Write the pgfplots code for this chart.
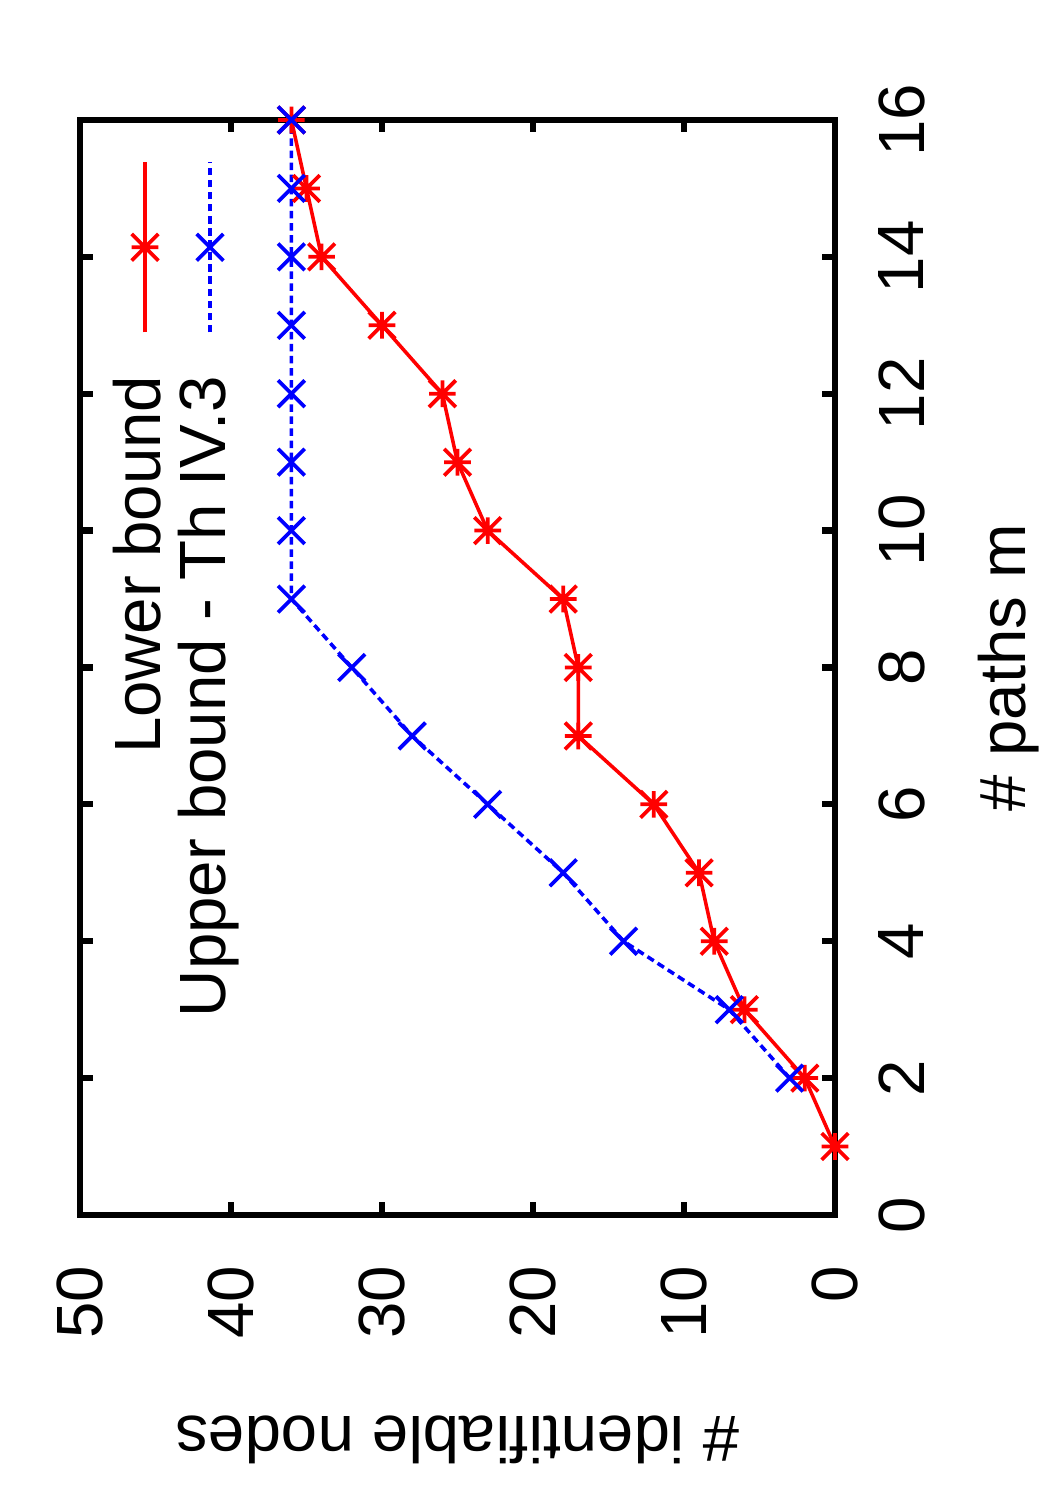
\documentclass[border=0pt]{standalone}
\usepackage{fontspec}
\setmainfont{Liberation Sans}
\usepackage{pgfplots}
\pgfplotsset{compat=1.18}

% eight-ray star (plus and cross together)
\pgfdeclareplotmark{gpstar}{%
  \pgfpathmoveto{\pgfqpoint{-\pgfplotmarksize}{0pt}}%
  \pgfpathlineto{\pgfqpoint{\pgfplotmarksize}{0pt}}%
  \pgfpathmoveto{\pgfqpoint{0pt}{-\pgfplotmarksize}}%
  \pgfpathlineto{\pgfqpoint{0pt}{\pgfplotmarksize}}%
  \pgfpathmoveto{\pgfqpoint{-\pgfplotmarksize}{-\pgfplotmarksize}}%
  \pgfpathlineto{\pgfqpoint{\pgfplotmarksize}{\pgfplotmarksize}}%
  \pgfpathmoveto{\pgfqpoint{-\pgfplotmarksize}{\pgfplotmarksize}}%
  \pgfpathlineto{\pgfqpoint{\pgfplotmarksize}{-\pgfplotmarksize}}%
  \pgfusepathqstroke}
% diagonal cross
\pgfdeclareplotmark{gpcross}{%
  \pgfpathmoveto{\pgfqpoint{-\pgfplotmarksize}{-\pgfplotmarksize}}%
  \pgfpathlineto{\pgfqpoint{\pgfplotmarksize}{\pgfplotmarksize}}%
  \pgfpathmoveto{\pgfqpoint{-\pgfplotmarksize}{\pgfplotmarksize}}%
  \pgfpathlineto{\pgfqpoint{\pgfplotmarksize}{-\pgfplotmarksize}}%
  \pgfusepathqstroke}

\pgfplotstableread{
m  lower
1  0
2  2
3  6
4  8
5  9
6  12
7  17
8  17
9  18
10 23
11 25
12 26
13 30
14 34
15 35
16 36
}\lowertab

\pgfplotstableread{
m  upper
2  3
3  7
4  14
5  18
6  23
7  28
8  32
9  36
10 36
11 36
12 36
13 36
14 36
15 36
16 36
}\uppertab

\begin{document}
\begin{tikzpicture}[rotate=90, transform shape]
\begin{axis}[
  name=ax, at={(68.4bp,51.6bp)}, anchor=south west,
  scale only axis, width=262.8bp, height=181.2bp,
  xmin=0, xmax=16, ymin=0, ymax=50,
  xtick={0,2,...,16}, ytick={0,10,...,50},
  minor tick num=0,
  axis line style={line width=1.5bp},
  major tick style={line width=1.5bp, black},
  major tick length=3bp,
  font=\fontsize{15.7bp}{15.7bp}\selectfont,
  /pgf/number format/assume math mode=true,
  xticklabel style={inner sep=0pt, anchor=north, yshift=-10.3bp},
  yticklabel style={inner sep=0pt, anchor=east, xshift=-12bp},
  xlabel={\# paths m},
  ylabel={\# identifiable nodes},
  xlabel style={at={(axis description cs:0.5,-0.2296)}, anchor=center},
  ylabel style={at={(axis description cs:-0.2055,0.5)}, anchor=center},
  legend plot pos=right,
  legend cell align=right,
  legend style={draw=none, fill=none, inner sep=0pt,
    at={(axis cs:15.42,47.9)}, anchor=north east,
    row sep=0pt, column sep=0bp,
    nodes={inner ysep=0pt, inner xsep=10bp, text height=11.5bp, text depth=4.1bp}},
  legend image code/.code={%
    \draw[mark repeat=2, mark phase=2, #1]
      plot coordinates {(0bp,0bp) (20.4bp,0bp) (40.8bp,0bp)};},
]
\addplot[red, line width=0.85bp, mark=gpstar, mark size=3.2bp,
  mark options={solid, line width=0.9bp}]
  table[x=m, y=lower] {\lowertab};
\addlegendentry{Lower bound}
\addplot[blue, line width=0.85bp, dash pattern=on 1.8bp off 1.1bp,
  mark=gpcross, mark size=3.2bp, mark options={solid, line width=0.9bp}]
  table[x=m, y=upper] {\uppertab};
\addlegendentry{Upper bound - Th IV.3}
\end{axis}
\pgfresetboundingbox
\path (0bp,0bp) rectangle (360bp,252bp);
\end{tikzpicture}
\end{document}
